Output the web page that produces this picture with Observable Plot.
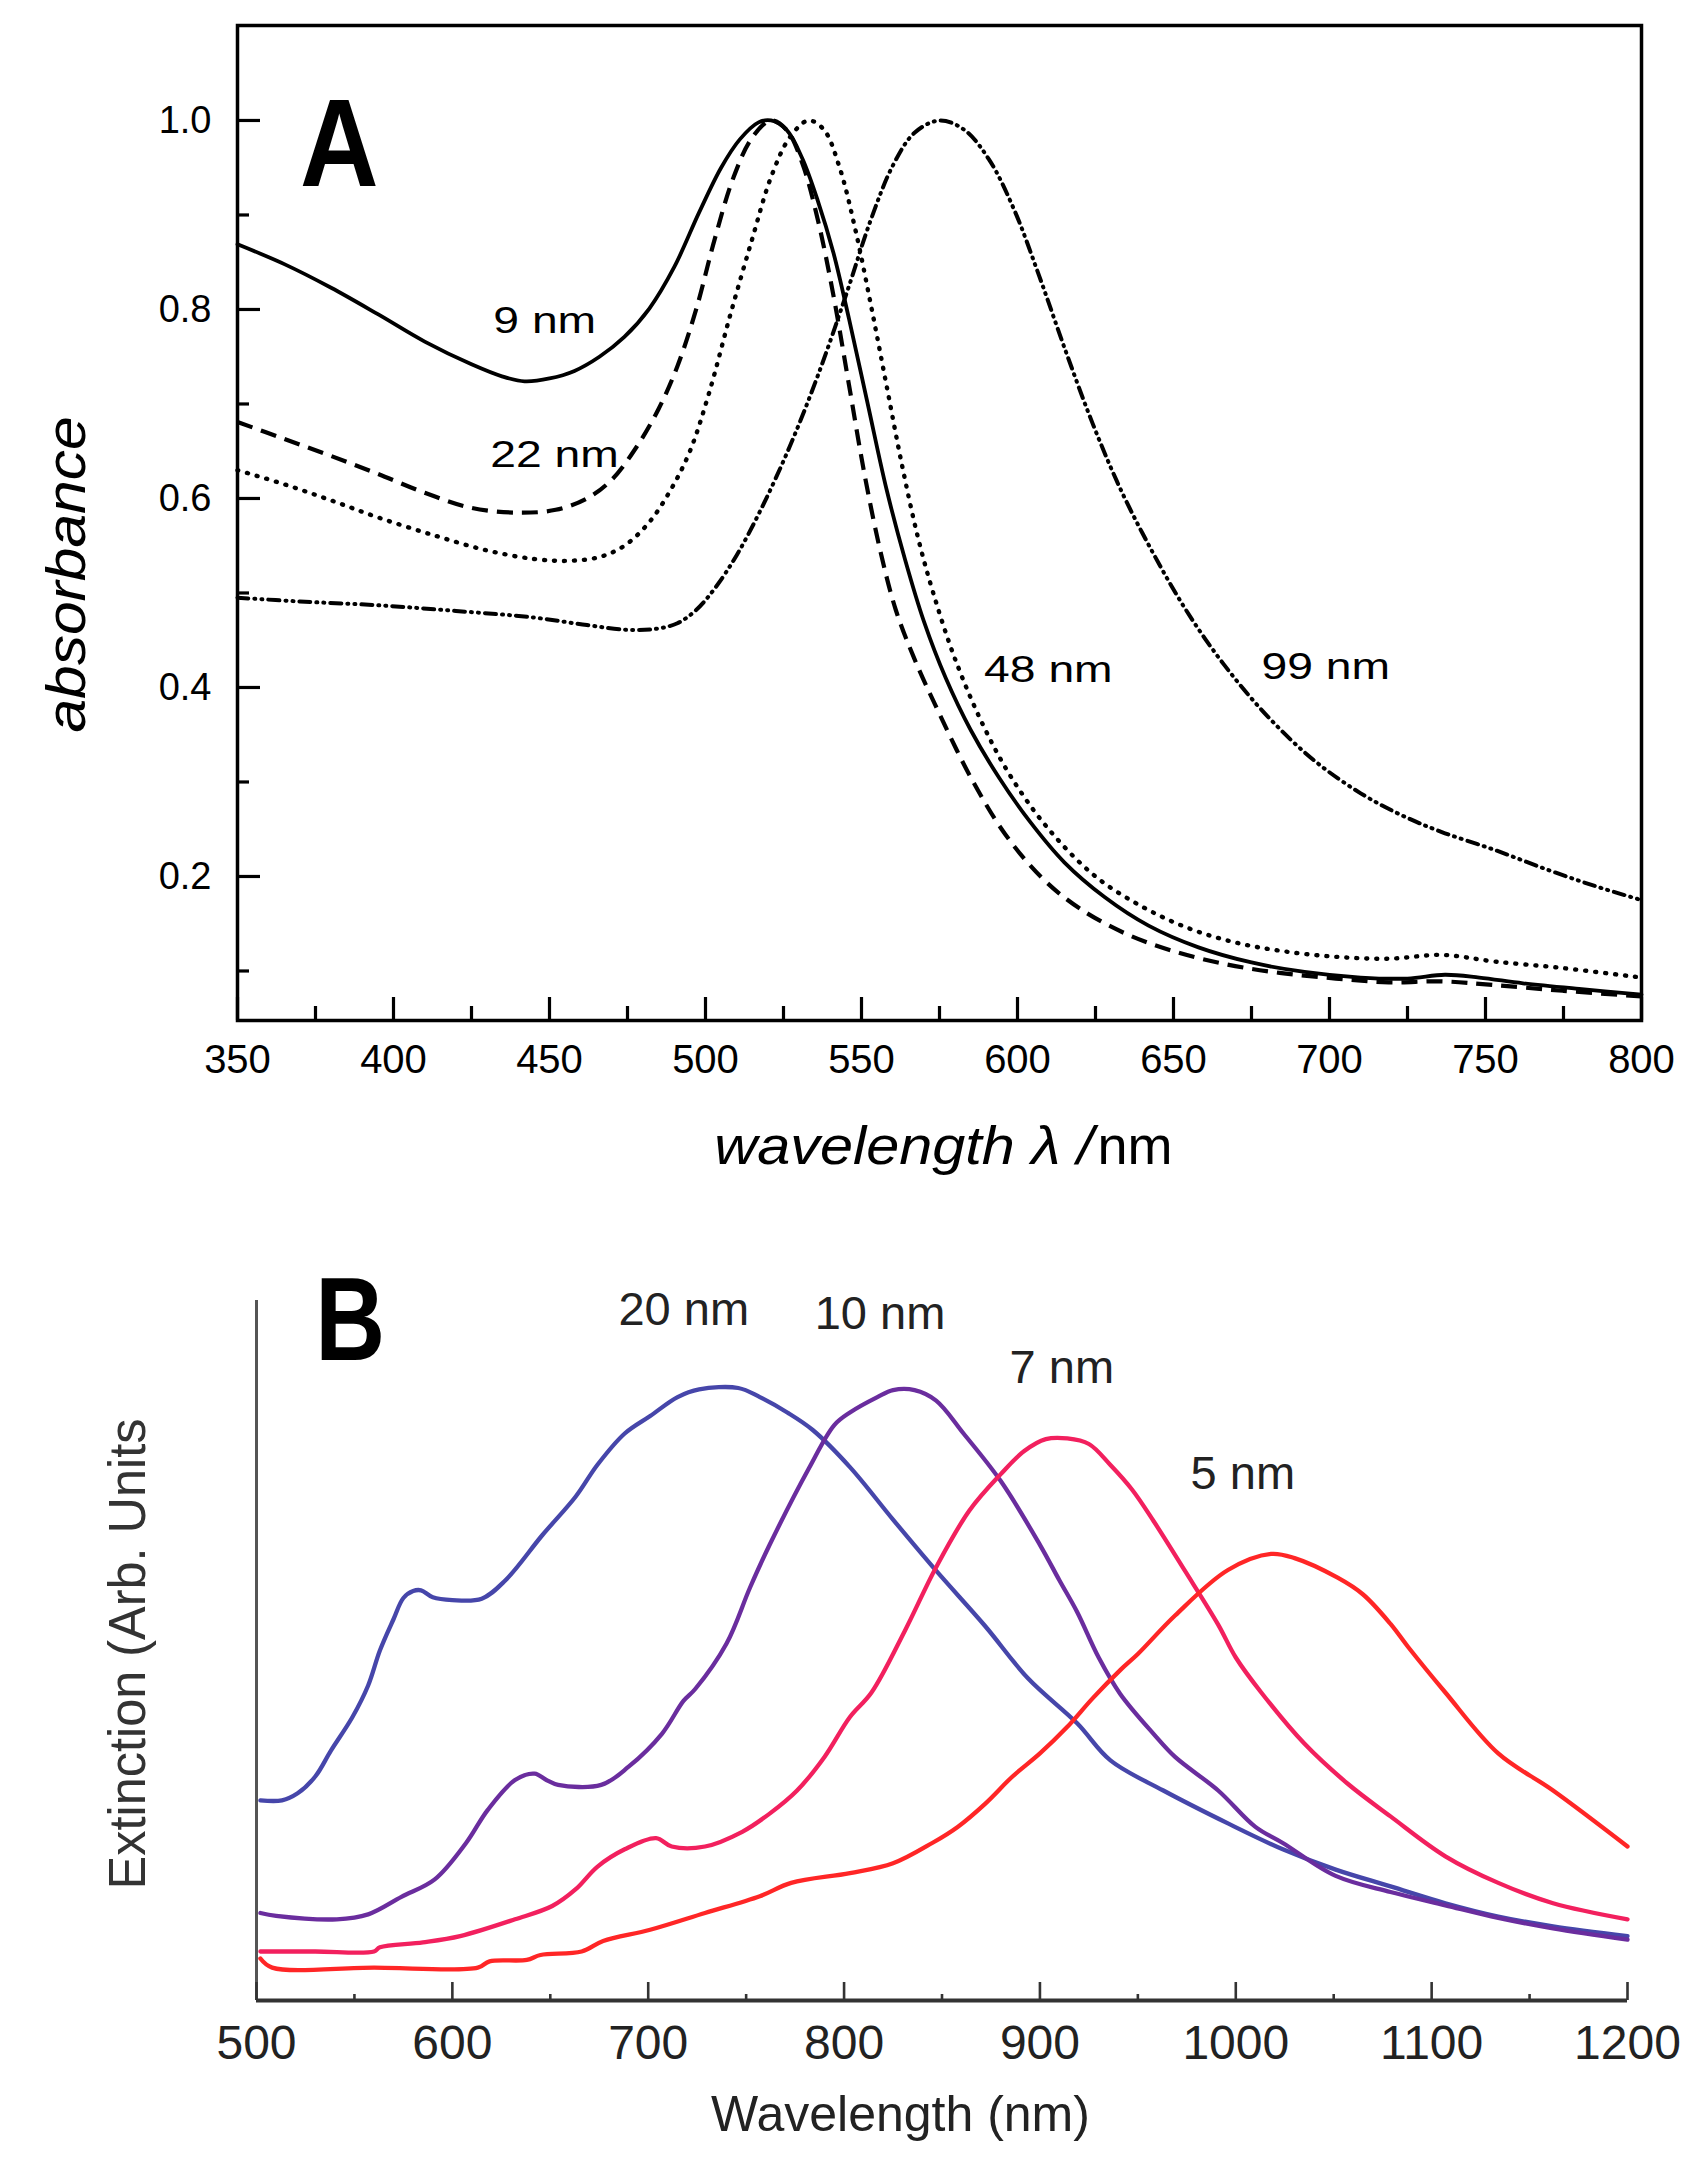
<!DOCTYPE html>
<html>
<head>
<meta charset="utf-8">
<script src="https://cdn.jsdelivr.net/npm/d3@7"></script>
<script src="https://cdn.jsdelivr.net/npm/@observablehq/plot@0.6"></script>
<style>
  html, body { margin: 0; padding: 0; background: #fff; }
  #chart svg { display: block; }
</style>
</head>
<body>
<div id="chart"></div>
<script>
// ---------------- Panel A data (wavelength nm, absorbance) ----------------
const absorb9nm = [
  [350,0.869],[365,0.848],[380,0.823],[395,0.795],[410,0.766],[425,0.742],[435,0.729],
  [442,0.724],[450,0.727],[458,0.735],[466,0.75],[474,0.771],[482,0.801],[490,0.845],
  [498,0.903],[505,0.95],[511,0.98],[517,0.998],[521,1.0],[526,0.99],[531,0.96],
  [536,0.915],[541,0.86],[546,0.79],[552,0.7],[558,0.61],[564,0.535],[570,0.47],
  [577,0.41],[585,0.355],[594,0.305],[604,0.258],[615,0.215],[628,0.178],[642,0.148],
  [658,0.125],[675,0.109],[692,0.099],[710,0.093],[725,0.092],[737,0.096],[748,0.093],
  [762,0.087],[780,0.081],[800,0.075]
];
const absorb22nm = [
  [350,0.681],[365,0.663],[380,0.645],[395,0.626],[410,0.606],[425,0.59],[440,0.585],
  [452,0.588],[462,0.6],[470,0.62],[478,0.655],[485,0.695],[491,0.74],[497,0.8],
  [503,0.875],[509,0.94],[515,0.982],[521,1.0],[526,0.99],[531,0.955],[536,0.895],
  [541,0.815],[546,0.72],[551,0.625],[556,0.545],[561,0.482],[567,0.43],[575,0.372],
  [585,0.305],[596,0.245],[608,0.198],[620,0.166],[635,0.139],[650,0.121],[667,0.107],
  [684,0.098],[702,0.092],[719,0.088],[736,0.089],[753,0.085],[775,0.079],[800,0.073]
];
const absorb48nm = [
  [350,0.63],[365,0.615],[380,0.598],[395,0.58],[413,0.561],[430,0.545],[445,0.536],
  [456,0.534],[466,0.538],[474,0.55],[482,0.575],[489,0.61],[495,0.65],[501,0.71],
  [508,0.795],[515,0.875],[521,0.94],[527,0.982],[533,1.0],[538,0.99],[543,0.95],
  [548,0.885],[553,0.805],[558,0.72],[563,0.635],[568,0.56],[573,0.5],[580,0.43],
  [589,0.36],[598,0.305],[610,0.25],[625,0.2],[640,0.168],[655,0.145],[670,0.13],
  [685,0.121],[702,0.115],[719,0.113],[736,0.117],[753,0.11],[775,0.103],[800,0.093]
];
const absorb99nm = [
  [350,0.495],[370,0.491],[395,0.487],[420,0.481],[445,0.474],[462,0.466],[475,0.461],
  [484,0.462],[491,0.468],[497,0.482],[503,0.505],[510,0.54],[518,0.59],[527,0.655],
  [536,0.73],[545,0.815],[553,0.895],[560,0.952],[567,0.987],[575,1.0],[583,0.99],
  [591,0.958],[599,0.905],[607,0.835],[615,0.76],[624,0.68],[633,0.61],[643,0.545],
  [654,0.482],[666,0.425],[680,0.37],[695,0.323],[710,0.288],[723,0.265],[736,0.247],
  [753,0.228],[770,0.207],[785,0.19],[800,0.175]
];
const xTicksA = [350,400,450,500,550,600,650,700,750,800];
const xMinorA = [375,425,475,525,575,625,675,725,775];
const yTicksA = [0.2,0.4,0.6,0.8,1.0];
const yMinorA = [0.1,0.3,0.5,0.7,0.9];
const labelTextA = ["9 nm","22 nm","48 nm","99 nm"];
const labelXA = [432,431,589.3,678.2];
const labelYA = [0.788,0.646,0.418,0.4217];

// ---------------- Panel B data (wavelength nm, extinction arb.) ----------------
const ext20nm = [
  [502,0.286],[513,0.286],[521,0.296],[530,0.32],[538,0.357],[549,0.405],[557,0.45],
  [563,0.5],[570,0.545],[575,0.575],[580,0.585],[584,0.586],[590,0.576],[600,0.572],
  [615,0.574],[627,0.6],[646,0.665],[663,0.72],[674,0.765],[688,0.81],[701,0.835],
  [715,0.862],[726,0.873],[746,0.875],[757,0.862],[771,0.84],[784,0.815],[803,0.762],
  [825,0.687],[847,0.614],[872,0.535],[894,0.46],[919,0.396],[936,0.343],[963,0.3],
  [996,0.253],[1024,0.216],[1051,0.187],[1079,0.163],[1107,0.139],[1134,0.12],
  [1162,0.106],[1200,0.092]
];
const ext10nm = [
  [502,0.125],[510,0.121],[541,0.116],[557,0.123],[574,0.148],[591,0.173],[607,0.225],
  [618,0.272],[632,0.315],[642,0.324],[648,0.315],[654,0.308],[676,0.308],[690,0.334],
  [707,0.381],[718,0.428],[724,0.445],[740,0.51],[752,0.59],[762,0.651],[782,0.76],
  [795,0.822],[803,0.84],[817,0.862],[825,0.872],[836,0.872],[847,0.857],[861,0.81],
  [880,0.742],[900,0.651],[910,0.60],[919,0.555],[930,0.49],[941,0.438],[958,0.381],
  [969,0.348],[991,0.3],[1010,0.248],[1024,0.225],[1051,0.178],[1079,0.155],
  [1107,0.136],[1134,0.118],[1162,0.103],[1200,0.087]
];
const ext7nm = [
  [502,0.07],[530,0.07],[560,0.07],[563,0.076],[585,0.083],[604,0.092],[632,0.116],
  [651,0.135],[663,0.159],[674,0.191],[688,0.216],[704,0.232],[712,0.22],[729,0.22],
  [748,0.241],[762,0.267],[776,0.3],[790,0.348],[803,0.405],[814,0.44],[831,0.528],
  [847,0.619],[864,0.7],[880,0.752],[892,0.785],[903,0.802],[914,0.803],[925,0.795],
  [936,0.765],[947,0.73],[958,0.685],[974,0.614],[991,0.537],[1000,0.49],[1013,0.44],
  [1035,0.367],[1057,0.31],[1079,0.263],[1107,0.206],[1134,0.168],[1162,0.139],[1200,0.116]
];
const ext5nm = [
  [502,0.06],[508,0.047],[560,0.047],[613,0.047],[619,0.056],[638,0.058],[645,0.065],
  [666,0.07],[677,0.085],[701,0.101],[729,0.125],[757,0.149],[773,0.168],[803,0.182],
  [825,0.196],[845,0.225],[858,0.248],[872,0.281],[886,0.32],[900,0.353],[914,0.391],
  [927,0.432],[941,0.472],[950,0.495],[969,0.55],[996,0.615],[1018,0.638],[1030,0.632],
  [1052,0.604],[1065,0.58],[1079,0.538],[1088,0.505],[1107,0.44],[1134,0.353],
  [1162,0.3],[1200,0.22]
];
const xTicksB = [500,600,700,800,900,1000,1100,1200];
const xMinorB = [550,650,750,850,950,1050,1150];
const labelTextB = ["20 nm","10 nm","7 nm","5 nm"];
const labelXB = [684.8,785,884.5,976.9];
const labelYB = [0.987,0.981,0.9036,0.7526];

// ---------------- styles ----------------
const FONT = "'Liberation Sans', Arial, Helvetica, sans-serif";
const NARROW = "'Liberation Sans Narrow', 'Liberation Sans', Arial, sans-serif";
const styleA = {
  "9 nm":  {dash: null, cap: "round", width: 3.8},
  "22 nm": {dash: "16,9", cap: "butt", width: 4.2},
  "48 nm": {dash: "1,9", cap: "round", width: 4.4},
  "99 nm": {dash: "11,6,1,6,1,6", cap: "round", width: 4.0}
};
const colorB = {"20 nm": "#4646aa", "10 nm": "#6a2d9e", "7 nm": "#f2205e", "5 nm": "#ff2626"};

const seriesA = [["9 nm", absorb9nm], ["22 nm", absorb22nm], ["48 nm", absorb48nm], ["99 nm", absorb99nm]];
const seriesB = [["20 nm", ext20nm], ["10 nm", ext10nm], ["7 nm", ext7nm], ["5 nm", ext5nm]];

const WA = 1697, HA = 1210;
const mA = {left: 237, right: 56, top: 25, bottom: 190};
const innerWA = WA - mA.left - mA.right, innerHA = HA - mA.top - mA.bottom;

const plotA = Plot.plot({
  width: WA, height: HA,
  marginLeft: mA.left, marginRight: mA.right, marginTop: mA.top, marginBottom: mA.bottom,
  x: {domain: [350, 800]},
  y: {domain: [0.0476, 1.1005]},
  style: {fontFamily: FONT, background: "#fff", color: "#000", overflow: "visible"},
  marks: [
    Plot.axisX({ticks: xTicksA, tickSize: 0, tickPadding: 24, fontSize: 40, label: null, tickFormat: d => String(d)}),
    Plot.axisY({ticks: yTicksA, tickSize: 0, tickPadding: 26, fontSize: 38, label: null, tickFormat: d => d.toFixed(1)}),
    Plot.tickX(xTicksA, {x: d => d, insetTop: innerHA - 23, strokeWidth: 3.2}),
    Plot.tickX(xMinorA, {x: d => d, insetTop: innerHA - 14, strokeWidth: 3.2}),
    Plot.tickY(yTicksA, {y: d => d, insetRight: innerWA - 23, strokeWidth: 3.2}),
    Plot.tickY(yMinorA, {y: d => d, insetRight: innerWA - 12, strokeWidth: 3.2}),
    ...seriesA.map(([name, pts]) => Plot.line(pts, {
      x: d => d[0], y: d => d[1], curve: "catmull-rom",
      stroke: "#000", strokeWidth: styleA[name].width,
      strokeDasharray: styleA[name].dash, strokeLinecap: styleA[name].cap
    })),
    Plot.frame({strokeWidth: 3.5}),
    Plot.text(labelTextA, {x: (d, i) => labelXA[i], y: (d, i) => labelYA[i], text: d => d,
      textAnchor: "start", lineAnchor: "middle", fontSize: 37, fill: "#000"}),
    Plot.text(["A"], {x: 370, y: 0.9725, text: d => d, textAnchor: "start", lineAnchor: "middle",
      fontSize: 125, fontWeight: "bold", fontFamily: NARROW, fill: "#000"}),
    Plot.text(["absorbance"], {frameAnchor: "left", dx: -153, dy: 51.5, rotate: -90,
      textAnchor: "middle", lineAnchor: "bottom", fontSize: 55, fontStyle: "italic", fill: "#000"}),
    Plot.text(["wavelength λ /"], {frameAnchor: "bottom", dx: 1093 - (mA.left + innerWA / 2), dy: 143,
      textAnchor: "end", lineAnchor: "bottom", fontSize: 54, fontStyle: "italic", fill: "#000"}),
    Plot.text(["nm"], {frameAnchor: "bottom", dx: 1097 - (mA.left + innerWA / 2), dy: 143,
      textAnchor: "start", lineAnchor: "bottom", fontSize: 54, fill: "#000"})
  ]
});

const WB = 1697, HB = 961;
const mB = {left: 256, right: 70, top: 90, bottom: 171};
const innerWB = WB - mB.left - mB.right, innerHB = HB - mB.top - mB.bottom;

const plotB = Plot.plot({
  width: WB, height: HB,
  marginLeft: mB.left, marginRight: mB.right, marginTop: mB.top, marginBottom: mB.bottom,
  x: {domain: [500, 1200]},
  y: {domain: [0, 1], axis: null},
  style: {fontFamily: FONT, background: "#fff", color: "#222", overflow: "visible"},
  marks: [
    Plot.ruleX([500], {stroke: "#555", strokeWidth: 3}),
    Plot.ruleY([0], {stroke: "#333", strokeWidth: 4}),
    Plot.tickX(xTicksB, {x: d => d, insetTop: innerHB - 18, stroke: "#333", strokeWidth: 2.6}),
    Plot.tickX(xMinorB, {x: d => d, insetTop: innerHB - 6, stroke: "#333", strokeWidth: 2.6}),
    Plot.axisX({ticks: xTicksB, tickSize: 0, tickPadding: 24, fontSize: 48, label: null, tickFormat: d => String(d)}),
    ...seriesB.map(([name, pts]) => Plot.line(pts, {
      x: d => d[0], y: d => d[1], curve: "catmull-rom",
      stroke: colorB[name], strokeWidth: 4.3
    })),
    Plot.text(labelTextB, {x: (d, i) => labelXB[i], y: (d, i) => labelYB[i], text: d => d,
      textAnchor: "start", lineAnchor: "middle", fontSize: 47, fill: "#222"}),
    Plot.text(["B"], {x: 530, y: 0.9686, text: d => d, textAnchor: "start", lineAnchor: "middle",
      fontSize: 118, fontWeight: "bold", fontFamily: NARROW, fill: "#000"}),
    Plot.text(["Extinction (Arb. Units"], {frameAnchor: "left", dx: -112, dy: 3.5, rotate: -90,
      textAnchor: "middle", lineAnchor: "bottom", fontSize: 52, fill: "#333"}),
    Plot.text(["Wavelength (nm)"], {frameAnchor: "bottom", dx: 900 - (mB.left + innerWB / 2), dy: 130,
      lineAnchor: "bottom", fontSize: 50, fill: "#222"})
  ]
});

// horizontal stretch of some labels to match the reference glyph proportions
const stretch = {
  "9 nm": 1.25, "22 nm": 1.25, "48 nm": 1.25, "99 nm": 1.25,
  "absorbance": 1.1, "wavelength λ /": 1.1, "Extinction (Arb. Units": 0.97,
  "A": 0.87, "B": 0.82
};
function applyStretch(svg) {
  d3.select(svg).selectAll("text").each(function () {
    const s = stretch[this.textContent];
    if (s) {
      const t = this.getAttribute("transform") || "";
      this.setAttribute("transform", t + ` scale(${s},1)`);
    }
  });
}
applyStretch(plotA);
applyStretch(plotB);

document.getElementById("chart").append(plotA, plotB);
</script>
</body>
</html>
